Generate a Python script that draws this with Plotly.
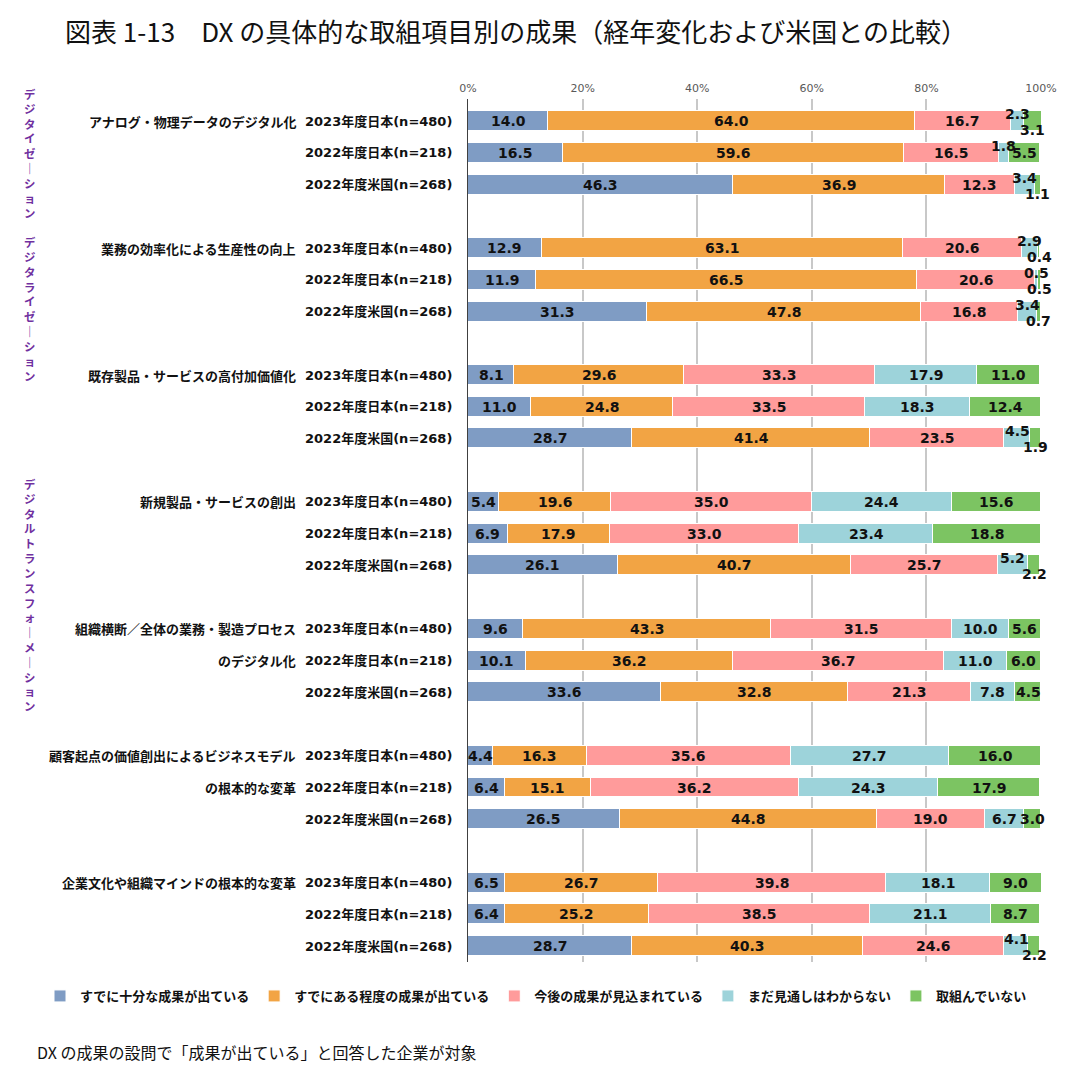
import plotly.graph_objects as go

# ---------------- data ----------------
item_labels = [
    ["アナログ・物理データのデジタル化"],
    ["業務の効率化による生産性の向上"],
    ["既存製品・サービスの高付加価値化"],
    ["新規製品・サービスの創出"],
    ["組織横断／全体の業務・製造プロセス", "のデジタル化"],
    ["顧客起点の価値創出によるビジネスモデル", "の根本的な変革"],
    ["企業文化や組織マインドの根本的な変革"],
]
survey_labels = ["2023年度日本(n=480)", "2022年度日本(n=218)", "2022年度米国(n=268)"]

series_names = [
    "すでに十分な成果が出ている",
    "すでにある程度の成果が出ている",
    "今後の成果が見込まれている",
    "まだ見通しはわからない",
    "取組んでいない",
]
series_colors = ["#7F9CC4", "#F2A444", "#FF9B9B", "#9DD3DA", "#7CC462"]

v_full = [14.0, 16.5, 46.3, 12.9, 11.9, 31.3, 8.1, 11.0, 28.7, 5.4, 6.9, 26.1,
          9.6, 10.1, 33.6, 4.4, 6.4, 26.5, 6.5, 6.4, 28.7]
v_some = [64.0, 59.6, 36.9, 63.1, 66.5, 47.8, 29.6, 24.8, 41.4, 19.6, 17.9, 40.7,
          43.3, 36.2, 32.8, 16.3, 15.1, 44.8, 26.7, 25.2, 40.3]
v_future = [16.7, 16.5, 12.3, 20.6, 20.6, 16.8, 33.3, 33.5, 23.5, 35.0, 33.0, 25.7,
            31.5, 36.7, 21.3, 35.6, 36.2, 19.0, 39.8, 38.5, 24.6]
v_unknown = [2.3, 1.8, 3.4, 2.9, 0.5, 3.4, 17.9, 18.3, 4.5, 24.4, 23.4, 5.2,
             10.0, 11.0, 7.8, 27.7, 24.3, 6.7, 18.1, 21.1, 4.1]
v_none = [3.1, 5.5, 1.1, 0.4, 0.5, 0.7, 11.0, 12.4, 1.9, 15.6, 18.8, 2.2,
          5.6, 6.0, 4.5, 16.0, 17.9, 3.0, 9.0, 8.7, 2.2]
x_ticks = [0, 20, 40, 60, 80, 100]
x_tick_text = ["0%", "20%", "40%", "60%", "80%", "100%"]

title_text = "図表 1-13　DX の具体的な取組項目別の成果（経年変化および米国との比較）"
note_text = "DX の成果の設問で「成果が出ている」と回答した企業が対象"
side_labels = ["デジタイゼーション　デジタライゼーション", "デジタルトランスフォーメーション"]

# ---------------- layout geometry (screen px -> figure) ----------------
OFF = 8                      # page body margin
W, H = 1088 - 2 * OFF, 1074 - 2 * OFF
PL, PR, PT, PB = 468, 1041, 99, 962   # plot area on screen
L, T = PL - OFF, PT - OFF
R, B = W - (PR - OFF), H - (PB - OFF)
PW, PH = W - L - R, H - T - B


def px_x(p):
    return (p - PL) / PW


def px_y(p):
    return (PB - p) / PH


all_series = [v_full, v_some, v_future, v_unknown, v_none]
n_rows = len(v_full)
row_pos = [(i // 3) * 4 + (i % 3) for i in range(n_rows)]

CJK = "Noto Sans CJK JP"
NUMF = "DejaVu Sans, Noto Sans CJK JP"

fig = go.Figure()
for name, color, vals in zip(series_names, series_colors, all_series):
    fig.add_trace(go.Bar(
        y=row_pos, x=vals, name=name, orientation="h",
        marker=dict(color=color, line=dict(color="white", width=1)),
        width=0.63, textposition="none", hoverinfo="x+name",
    ))

annotations = []
# value labels
for i in range(n_rows):
    cum = 0.0
    for s, vals in enumerate(all_series):
        v = vals[i]
        mid = cum + v / 2
        cum += v
        ys = 0
        if s == 3 and v < 5.5:
            ys = 7
        if s == 4 and v < 3.5 and v_unknown[i] < 5.5:
            ys = -9
        annotations.append(dict(
            x=mid, y=row_pos[i], xref="x", yref="y", text=f"{v:.1f}",
            showarrow=False, yshift=ys,
            font=dict(family=NUMF, size=14, color="#111111", weight="bold"),
        ))

# survey labels (y tick-like)
for i in range(n_rows):
    annotations.append(dict(
        x=px_x(454), y=row_pos[i], xref="paper", yref="y",
        text=survey_labels[i % 3], showarrow=False, xanchor="right",
        font=dict(family=NUMF, size=13, color="#111111", weight="bold"),
    ))

# item labels
for g, lines in enumerate(item_labels):
    for k, line in enumerate(lines):
        annotations.append(dict(
            x=px_x(298), y=g * 4 + k, xref="paper", yref="y",
            text=line, showarrow=False, xanchor="right",
            font=dict(family=CJK, size=13, color="#111111", weight="bold"),
        ))

# vertical side labels (upright characters, one per line)
for text, top in zip(side_labels, [85, 475]):
    chars = ["｜" if ch == "ー" else ("　" if ch == "　" else ch) for ch in text]
    annotations.append(dict(
        x=px_x(30), y=px_y(top), xref="paper", yref="paper",
        text="<br>".join(chars), showarrow=False, xanchor="center", yanchor="top",
        align="center", borderpad=0,
        font=dict(family=CJK, size=11.4, color="#7030A0", weight="bold"),
    ))

# title
annotations.append(dict(
    x=px_x(63), y=px_y(31), xref="paper", yref="paper", text=title_text,
    showarrow=False, xanchor="left", yanchor="middle",
    font=dict(family=CJK, size=26, color="#111111"),
))
# note
annotations.append(dict(
    x=px_x(35), y=px_y(1052), xref="paper", yref="paper", text=note_text,
    showarrow=False, xanchor="left", yanchor="middle",
    font=dict(family=CJK, size=16, color="#111111"),
))

fig.update_layout(
    width=W, height=H,
    margin=dict(l=L, r=R, t=T, b=B, autoexpand=False),
    paper_bgcolor="white", plot_bgcolor="white",
    barmode="stack", bargap=0,
    showlegend=True,
    legend=dict(
        orientation="h", x=px_x(40), y=px_y(996), xanchor="left", yanchor="middle",
        font=dict(family=CJK, size=13, color="#111111", weight="bold"),
        itemwidth=30, traceorder="normal", bgcolor="rgba(0,0,0,0)",
    ),
    xaxis=dict(
        range=[0, 100], side="top", tickvals=x_ticks, ticktext=x_tick_text,
        tickfont=dict(family="DejaVu Sans", size=11, color="#595959"),
        ticklabelstandoff=4,
        showgrid=True, gridcolor="#C8C8C8", gridwidth=2,
        zeroline=False, showline=False, ticks="", fixedrange=True,
    ),
    yaxis=dict(
        range=[26.5, -0.7], showticklabels=False, showgrid=False,
        zeroline=False, showline=True, linecolor="#404040", linewidth=1,
        ticks="", fixedrange=True,
    ),
    annotations=annotations,
)

fig.write_html("out.html")
